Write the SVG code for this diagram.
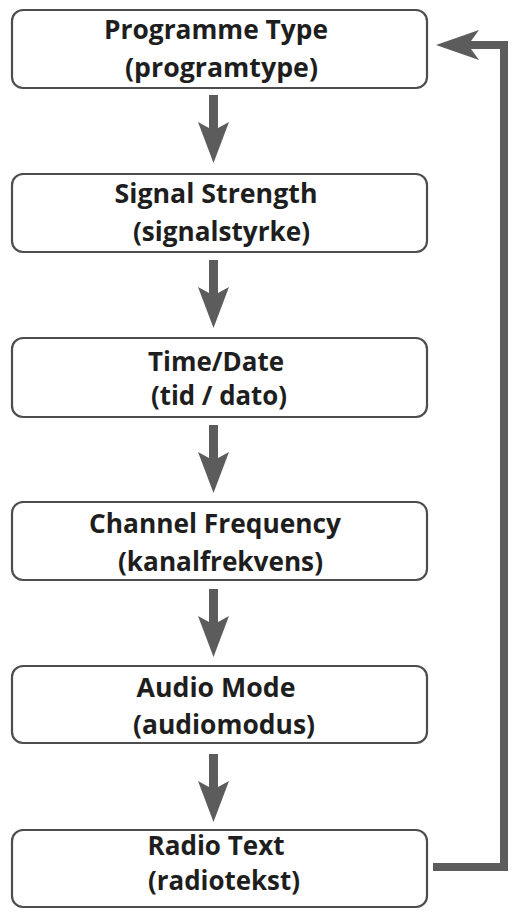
<svg xmlns="http://www.w3.org/2000/svg" width="512" height="912" viewBox="0 0 512 912">
<style>
.box{fill:#fff;stroke:#4d4d4d;stroke-width:2.2}
.t{font-family:"Open Sans","Liberation Sans",sans-serif;font-weight:700;font-size:26px;fill:#1e1e1e;text-anchor:middle}
.arr{fill:#5c5c5c}
</style>
<defs>
<path id="down" d="M-4.5,0 H4.5 V33 L15.5,27 L0,68 L-15.5,27 L-4.5,33 Z"/>
</defs>
<rect width="512" height="912" fill="#fff"/>
<g id="n1">
<rect class="box" x="12" y="10" width="415" height="78" rx="11"/>
<text class="t" x="216" y="39" textLength="224" lengthAdjust="spacingAndGlyphs">Programme Type</text>
<text class="t" x="221.5" y="77" textLength="193" lengthAdjust="spacingAndGlyphs">(programtype)</text>
</g>
<g id="n2">
<rect class="box" x="12" y="174" width="415" height="78" rx="11"/>
<text class="t" x="216" y="203" textLength="203" lengthAdjust="spacingAndGlyphs">Signal Strength</text>
<text class="t" x="221.5" y="241" textLength="177" lengthAdjust="spacingAndGlyphs">(signalstyrke)</text>
</g>
<g id="n3">
<rect class="box" x="12" y="338" width="415" height="79" rx="11"/>
<text class="t" x="216" y="371" textLength="136" lengthAdjust="spacingAndGlyphs">Time/Date</text>
<text class="t" x="219" y="405" textLength="136" lengthAdjust="spacingAndGlyphs">(tid / dato)</text>
</g>
<g id="n4">
<rect class="box" x="12" y="502" width="415" height="78" rx="11"/>
<text class="t" x="215" y="533" textLength="252" lengthAdjust="spacingAndGlyphs">Channel Frequency</text>
<text class="t" x="220.5" y="571" textLength="205" lengthAdjust="spacingAndGlyphs">(kanalfrekvens)</text>
</g>
<g id="n5">
<rect class="box" x="12" y="666" width="415" height="77" rx="11"/>
<text class="t" x="216" y="697" textLength="159" lengthAdjust="spacingAndGlyphs">Audio Mode</text>
<text class="t" x="224" y="734" textLength="182" lengthAdjust="spacingAndGlyphs">(audiomodus)</text>
</g>
<g id="n6">
<rect class="box" x="12" y="830" width="415" height="77" rx="11"/>
<text class="t" x="216" y="855" textLength="137" lengthAdjust="spacingAndGlyphs">Radio Text</text>
<text class="t" x="224" y="890" textLength="152" lengthAdjust="spacingAndGlyphs">(radiotekst)</text>
</g>
<g id="connectors" class="arr">
<use href="#down" x="213.5" y="95"/>
<use href="#down" x="213.5" y="260"/>
<use href="#down" x="213.5" y="425"/>
<use href="#down" x="213.5" y="589"/>
<use href="#down" x="213.5" y="754"/>
<path d="M433,863 H500 V49 H471 L479,60 L436,45 L479,30 L471,41 H508 V871 H433 Z"/>
</g>
</svg>
